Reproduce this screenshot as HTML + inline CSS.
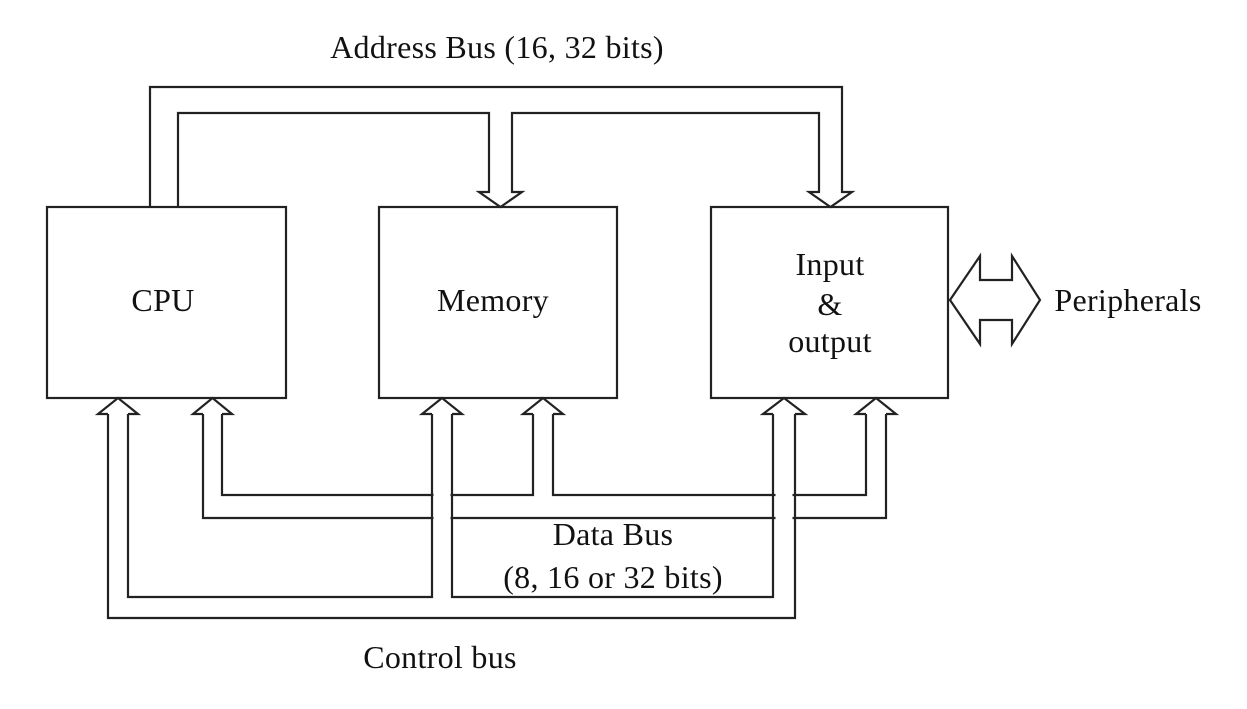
<!DOCTYPE html>
<html><head><style>
html,body{margin:0;padding:0;background:#fff;}
svg{display:block;}
text{font-family:"Liberation Serif",serif;font-size:32px;letter-spacing:0.3px;fill:#111;}
</style></head><body>
<svg width="1247" height="709" viewBox="0 0 1247 709" xmlns="http://www.w3.org/2000/svg">
<g fill="none" stroke="#222" stroke-width="2.2" stroke-linejoin="miter">
<rect x="47" y="207" width="239" height="191"/>
<rect x="379" y="207" width="238" height="191"/>
<rect x="711" y="207" width="237" height="191"/>
<polyline points="150,207 150,87 842,87 842,192 852,192 830.5,207 809,192 819,192 819,113 512,113 512,192 522,192 500.5,207 479,192 489,192 489,113 178,113 178,207"/>
<polyline points="222,414 222,495 533,495 533,414"/>
<polyline points="553,414 553,495 866,495 866,414"/>
<polyline points="203,414 203,518 886,518 886,414"/>
<polyline points="203,414 193,414 212.5,398 232,414 222,414"/>
<polyline points="533,414 523,414 543,398 563,414 553,414"/>
<polyline points="866,414 856,414 876,398 896,414 886,414"/>
</g>
<g fill="none" stroke="#fff" stroke-width="17">
<line x1="442" y1="485" x2="442" y2="528"/>
<line x1="784" y1="485" x2="784" y2="528"/>
</g>
<g fill="none" stroke="#222" stroke-width="2.2">
<polyline points="128,414 128,597 432,597 432,414"/>
<polyline points="452,414 452,597 773,597 773,414"/>
<polyline points="108,414 108,618 795,618 795,414"/>
<polyline points="108,414 98,414 118,398 138,414 128,414"/>
<polyline points="432,414 422,414 442,398 462,414 452,414"/>
<polyline points="773,414 763,414 784,398 805,414 795,414"/>
<polygon points="950,300 980,256 980,280 1012,280 1012,256 1040,300 1012,344 1012,320 980,320 980,344"/>
</g>
<text x="497" y="58" text-anchor="middle">Address Bus (16, 32 bits)</text>
<text x="163" y="311" text-anchor="middle">CPU</text>
<text x="493" y="311" text-anchor="middle">Memory</text>
<text x="830" y="275" text-anchor="middle">Input</text>
<text x="830" y="315" text-anchor="middle">&amp;</text>
<text x="830" y="352" text-anchor="middle">output</text>
<text x="1128" y="311" text-anchor="middle">Peripherals</text>
<text x="613" y="545" text-anchor="middle">Data Bus</text>
<text x="613" y="588" text-anchor="middle">(8, 16 or 32 bits)</text>
<text x="440" y="668" text-anchor="middle">Control bus</text>
</svg>
</body></html>
